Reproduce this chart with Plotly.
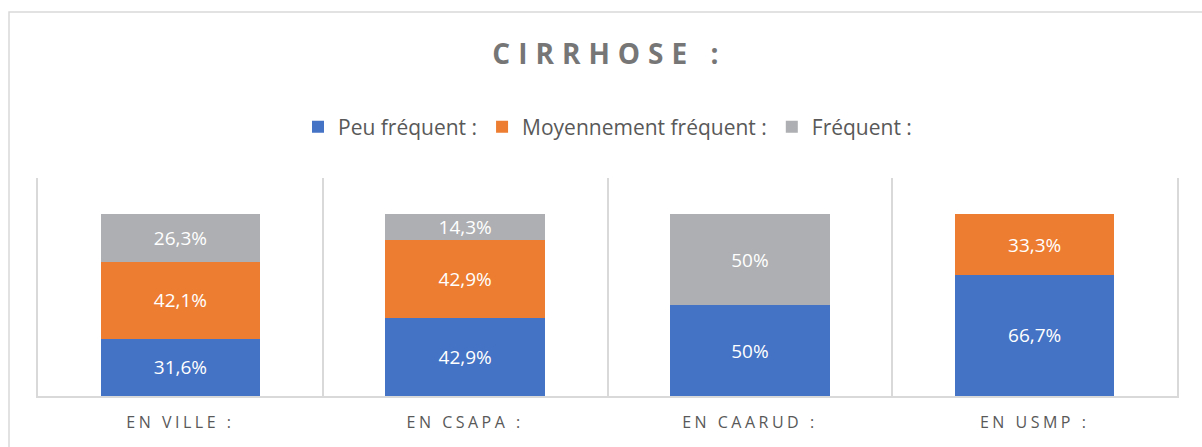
import plotly.graph_objects as go

categories = ["EN VILLE :", "EN CSAPA :", "EN CAARUD :", "EN USMP :"]
series_names = ["Peu fréquent :", "Moyennement fréquent :", "Fréquent :"]
peu_frequent = [31.6, 42.9, 50, 66.7]
moyennement_frequent = [42.1, 42.9, None, 33.3]
frequent = [26.3, 14.3, 50, None]
title_text = "CIRRHOSE :"

colors = ["#4472C4", "#ED7D31", "#AEAFB2"]


def fmt(v):
    if v is None:
        return ""
    return f"{v:g}".replace(".", ",") + "%"


fig = go.Figure()
for name, vals, col in zip(series_names, [peu_frequent, moyennement_frequent, frequent], colors):
    fig.add_trace(go.Bar(
        x=categories, y=vals, name=name,
        marker=dict(color=col, line=dict(width=0)),
        text=[fmt(v) for v in vals], textposition="inside",
        insidetextanchor="middle", constraintext="none",
        textfont=dict(color="white", size=19, family="Open Sans"),
        cliponaxis=False,
    ))

W, H = 1202, 447
L, R, T, B = 38, 25, 178, 51
pw = W - L - R
ph = H - T - B

fig.update_layout(
    width=W, height=H,
    barmode="stack", bargap=0.44,
    margin=dict(l=L, r=R, t=T, b=B),
    paper_bgcolor="white", plot_bgcolor="white",
    font=dict(family="Open Sans", color="#595959"),
    title=dict(text="<b>" + title_text + "</b>", x=0.507, xanchor="center",
               y=1 - 54 / H, yanchor="middle", yref="container",
               font=dict(size=28, color="#767676", family="Open Sans")),
    legend=dict(orientation="h", x=0.5, xanchor="center", xref="paper",
                y=1 - 127 / H, yanchor="middle", yref="container",
                font=dict(size=21, color="#595959"), itemwidth=30,
                traceorder="normal", tracegroupgap=0),
    showlegend=True,
)
fig.update_xaxes(
    type="category", tickson="boundaries", showgrid=True, gridcolor="#D9D9D9",
    gridwidth=1.5, showline=True, linecolor="#D9D9D9", linewidth=1.5,
    ticks="", ticklabelstandoff=11,
    tickfont=dict(size=16, color="#595959"), range=[-0.5, 3.5],
)
fig.update_yaxes(
    range=[0, 120], showgrid=False, zeroline=False, showticklabels=False,
    showline=True, mirror=True, linecolor="#D9D9D9", linewidth=1.5,
)
# chart border
fig.add_shape(type="rect", xref="paper", yref="paper",
              x0=(9 - L) / pw, x1=(W + 20 - L) / pw,
              y0=-(B + 20) / ph, y1=(H - 12 - B) / ph,
              line=dict(color="#D9D9D9", width=1.5), fillcolor="rgba(0,0,0,0)",
              layer="below")

post = """
document.body.style.margin='0';
document.body.style.padding='0';
setTimeout(function(){
  var gd = document.getElementById('{plot_id}');
  gd.querySelectorAll('.gtitle').forEach(function(e){ e.style.letterSpacing='8px'; });
  gd.querySelectorAll('.xtick text').forEach(function(e){ e.style.letterSpacing='3.5px'; });
}, 0);
"""
fig.write_html("out.html", post_script=post, config={"displayModeBar": False})
